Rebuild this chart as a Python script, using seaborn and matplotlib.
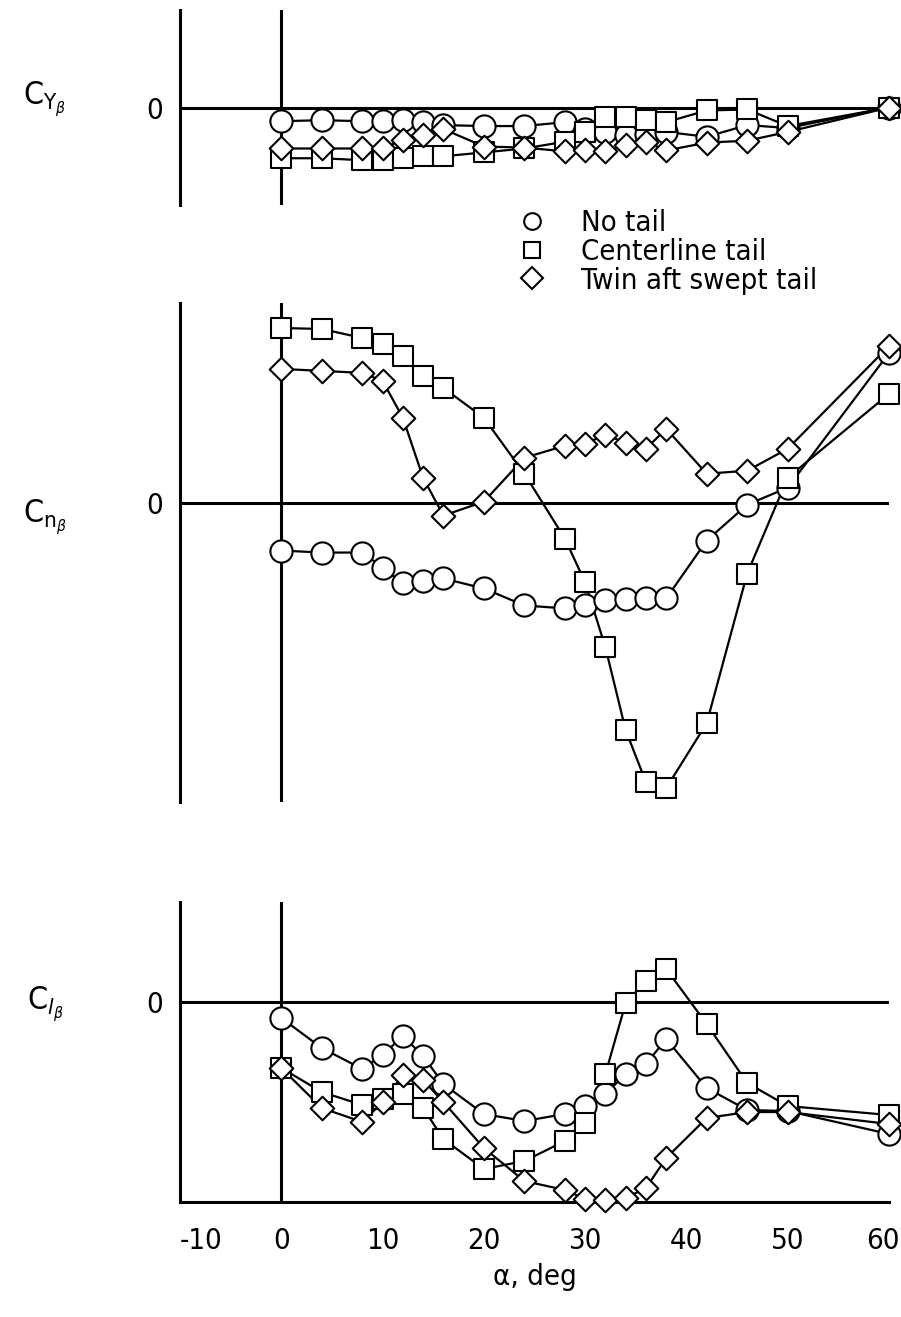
import numpy as np
import pandas as pd
import matplotlib
matplotlib.use("Agg")
import matplotlib.pyplot as plt
from matplotlib.lines import Line2D
from matplotlib.transforms import ScaledTranslation
import seaborn as sns

# angle of attack, deg
alpha = [0, 4, 8, 10, 12, 14, 16, 20, 24, 28, 30, 32, 34, 36, 38, 42, 46, 50, 60]
configs = ["No tail", "Centerline tail", "Twin aft swept tail"]

# C_Y beta
cy_none = [-0.0028, -0.0026, -0.0028, -0.0028, -0.0026, -0.0030, -0.0036, -0.0038, -0.0038, -0.0030,
           -0.0044, -0.0050, -0.0056, -0.0054, -0.0050, -0.0060, -0.0036, -0.0042, 0.0]
cy_center = [-0.0104, -0.0104, -0.0108, -0.0108, -0.0104, -0.0100, -0.0100, -0.0092, -0.0084, -0.0070,
             -0.0050, -0.0020, -0.0020, -0.0026, -0.0030, -0.0006, -0.0004, -0.0038, 0.0]
cy_twin = [-0.0084, -0.0084, -0.0084, -0.0084, -0.0066, -0.0056, -0.0044, -0.0080, -0.0082, -0.0090,
           -0.0088, -0.0090, -0.0076, -0.0070, -0.0088, -0.0072, -0.0068, -0.0050, 0.0]

# C_n beta
cn_none = [-0.00096, -0.0010, -0.0010, -0.0013, -0.00162, -0.00158, -0.00152, -0.00172, -0.00206, -0.00212,
           -0.00206, -0.00196, -0.00194, -0.00192, -0.00192, -0.00076, -0.00004, 0.0003, 0.0030]
cn_center = [0.0035, 0.00348, 0.0033, 0.00318, 0.00294, 0.00254, 0.0023, 0.0017, 0.00058, -0.00072,
             -0.0016, -0.0029, -0.00456, -0.0056, -0.00572, -0.00442, -0.00142, 0.0005, 0.00218]
cn_twin = [0.00268, 0.00264, 0.0026, 0.00244, 0.0017, 0.0005, -0.00026, 0.00002, 0.0009, 0.00114,
           0.00118, 0.00136, 0.0012, 0.00108, 0.00148, 0.00058, 0.00064, 0.00108, 0.00314]

# C_l beta
cl_none = [-0.00032, -0.00092, -0.00134, -0.00106, -0.00068, -0.00108, -0.00164, -0.00224, -0.00238, -0.00224,
           -0.00208, -0.00184, -0.00144, -0.00124, -0.00074, -0.00172, -0.00216, -0.00218, -0.00264]
cl_center = [-0.00132, -0.0018, -0.00206, -0.00194, -0.00184, -0.00212, -0.00274, -0.00334, -0.00318, -0.00278,
             -0.00242, -0.00144, -0.00002, 0.00042, 0.00066, -0.00044, -0.00162, -0.00208, -0.00226]
cl_twin = [-0.00132, -0.00212, -0.0024, -0.002, -0.00146, -0.00156, -0.002, -0.00292, -0.00358, -0.00376,
           -0.00394, -0.00396, -0.00392, -0.00372, -0.00312, -0.00232, -0.0022, -0.0022, -0.00244]

xtick_vals = [-10, 0, 10, 20, 30, 40, 50, 60]

sns.set_style("white")
plt.rcParams["font.family"] = ["DejaVu Sans"]
plt.rcParams["font.stretch"] = "condensed"
plt.rcParams["mathtext.fontset"] = "dejavusans"
for k in ["text.color", "axes.labelcolor", "xtick.color", "ytick.color", "axes.edgecolor"]:
    plt.rcParams[k] = "black"

# marker, size on plot, size in legend
mk = {"No tail": ("o", 16, 12), "Centerline tail": ("s", 15, 12), "Twin aft swept tail": ("D", 12, 11)}

fig = plt.figure(figsize=(9.01, 13.17), dpi=100)
ax_y = fig.add_axes([0.1998, 0.8443, 0.7869, 0.1481])
ax_n = fig.add_axes([0.1998, 0.3910, 0.7869, 0.3789])
ax_l = fig.add_axes([0.1998, 0.0873, 0.7869, 0.2278])


def panel(ax, series, ylim, yticks):
    df = pd.concat([pd.DataFrame({"alpha": alpha, "coef": v, "config": c})
                    for c, v in zip(configs, series)])
    ax.axhline(0, color="black", lw=2.2, zorder=1)
    ax.axvline(0, color="black", lw=2.2, zorder=1)
    sns.lineplot(data=df, x="alpha", y="coef", units="config", estimator=None,
                 color="black", lw=1.6, sort=False, ax=ax, legend=False, zorder=2)
    for c in configs:
        m, size, _ = mk[c]
        sns.scatterplot(data=df[df.config == c], x="alpha", y="coef", marker=m, s=size ** 2,
                        color="white", edgecolor="black", linewidth=1.5, ax=ax,
                        zorder=4, clip_on=False, legend=False)
    ax.set_xlim(-10, 60)
    ax.set_ylim(*ylim)
    ax.set_yticks(yticks)
    ax.set_yticklabels(["0" if t == 0 else "" for t in yticks])
    ax.tick_params(axis="y", direction="in", length=17, width=2.2, labelsize=21, pad=12)
    ax.set_xlabel("")
    ax.set_ylabel("")
    for s in ["top", "right"]:
        ax.spines[s].set_visible(False)
    ax.spines["left"].set_linewidth(2.2)
    ax.spines["bottom"].set_linewidth(2.2)


panel(ax_y, [cy_none, cy_center, cy_twin], (-0.02, 0.02), [-0.02, 0, 0.02])
panel(ax_n, [cn_none, cn_center, cn_twin], (-0.006, 0.004), [-0.006, -0.004, -0.002, 0, 0.002, 0.004])
panel(ax_l, [cl_none, cl_center, cl_twin], (-0.004, 0.002), [-0.004, -0.002, 0, 0.002])

for ax in (ax_y, ax_n):
    ax.spines["bottom"].set_visible(False)
    ax.set_xticks([])

ax_l.set_xticks(xtick_vals)
ax_l.set_xticklabels([str(v) for v in xtick_vals])
ax_l.tick_params(axis="x", direction="in", length=17, width=2.2, labelsize=21, pad=18)
ax_l.get_xticklabels()[0].set_horizontalalignment("left")
last = ax_l.xaxis.get_major_ticks()[-1].label1
last.set_transform(last.get_transform() + ScaledTranslation(-0.06, 0, fig.dpi_scale_trans))
ax_l.set_xlabel("α, deg", fontsize=21, labelpad=6)

fig.text(0.050, 0.925, r"$\mathrm{C}_{\mathrm{Y}_\beta}$", fontsize=23, ha="center", va="center")
fig.text(0.050, 0.608, r"$\mathrm{C}_{\mathrm{n}_\beta}$", fontsize=23, ha="center", va="center")
fig.text(0.050, 0.238, r"$\mathrm{C}_{l_\beta}$", fontsize=23, ha="center", va="center")

handles = [Line2D([], [], marker=mk[c][0], ls="none", ms=mk[c][2], mfc="white",
                  mec="black", mew=1.5) for c in configs]
ax_n.legend(handles, configs, loc="upper left", bbox_to_anchor=(0.574, 0.841),
            bbox_transform=fig.transFigure, frameon=False, fontsize=21,
            labelspacing=0.02, handlelength=1.0, handletextpad=1.2,
            borderpad=0, borderaxespad=0)

fig.savefig("out.png", dpi=100)
